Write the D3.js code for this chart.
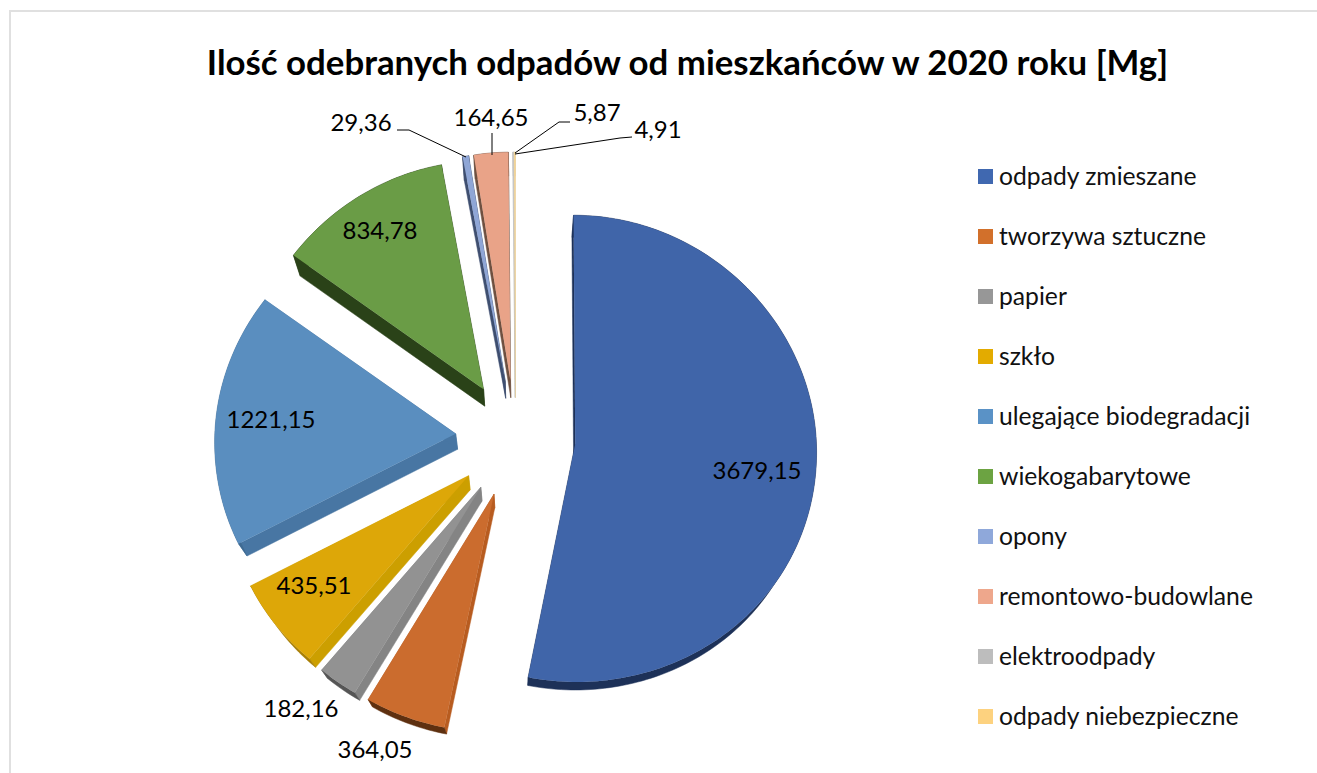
<!DOCTYPE html>
<html>
<head>
<meta charset="utf-8">
<script src="https://d3js.org/d3.v7.min.js"></script>
<style>
	html, body { margin: 0; padding: 0; background: #fff; }
	svg { display: block; font-family: Lato, "Noto Sans", sans-serif; }
</style>
</head>
<body>
<div id="chart"></div>
<script>
// chart values
var categories = ['odpady zmieszane', 'tworzywa sztuczne', 'papier', 'szkło', 'ulegające biodegradacji',
	'wiekogabarytowe', 'opony', 'remontowo-budowlane', 'elektroodpady', 'odpady niebezpieczne'];
var values = [3679.15, 364.05, 182.16, 435.51, 1221.15, 834.78, 29.36, 164.65, 5.87, 4.91];
var valueLabels = ['3679,15', '364,05', '182,16', '435,51', '1221,15', '834,78', '29,36', '164,65', '5,87', '4,91'];

// colours: top face, legend swatch, straight side wall, rim wall
var topColors = ['#4065a9', '#cb6c2e', '#929292', '#dda708', '#5a8ebf', '#6a9c46', '#8fa6d6', '#e9a388', '#c4c4c4', '#fbd78f'];
var legendColors = ['#4068b0', '#d2702b', '#979797', '#e3ab00', '#5a92c6', '#6ca342', '#8fa8da', '#eea78c', '#bdbdbd', '#fdd27f'];
var sideColors = ['#1d3158', '#b85c20', '#848484', '#cc9f00', '#4876a3', '#2a4218', '#3f4f70', '#6f5040', '#bbbbbb', '#e3cfa5'];
var rimColors = ['#1d3158', '#5e3010', '#555555', '#a87f05', '#3f6a92', '#2a4218', '#3f4f70', '#6f5040', '#bbbbbb', '#e3cfa5'];

// label centres, in page pixels
var labelX = [757, 375, 301, 314, 271, 380, 361, 491, 597, 658];
var labelY = [471, 750, 709, 586, 420, 231, 123, 118, 113, 130];

// leader lines for the small slices
var leaders = [
	{ label: '29,36', pts: [[397, 130], [409, 130], [466, 157]] },
	{ label: '164,65', pts: [[492, 133], [492, 155]] },
	{ label: '5,87', pts: [[570, 122], [559, 122], [515, 153]] },
	{ label: '4,91', pts: [[632, 137], [620, 138], [515, 154]] }
];

var svgWidth = 1317,
	svgHeight = 773;

// pie geometry
var cx = 515.5,
	cy = 438,
	rx = 241,
	ry = 238,
	explode = 60,
	farSquash = 0.96,
	perspective = 0.00012;

// side walls run towards a point under the pie
var vanish = [520, 950],
	depth = 0.03;

var svg = d3.select('#chart')
	.append('svg')
	.attr('width', svgWidth)
	.attr('height', svgHeight);

// frame of the chart area
svg.append('path')
	.attr('d', 'M10,773V11H1317')
	.attr('fill', 'none')
	.attr('stroke', '#e0e0e0')
	.attr('stroke-width', 2);

// title
svg.append('text')
	.attr('x', 687.5)
	.attr('y', 75)
	.attr('text-anchor', 'middle')
	.attr('font-size', 34.8)
	.attr('font-weight', 700)
	.attr('fill', '#000')
	.text('Ilość odebranych odpadów od mieszkańców w 2020 roku [Mg]');

var arcs = d3.pie().sort(null).value(d => d)(values);
var line = d3.line();

// plane coordinates to page, the far half is a bit shorter and narrower
function project(x, y) {
	return [cx + x * (1 + y * perspective), cy + (y < 0 ? y * farSquash : y)];
}

function lower(p) {
	return [p[0] + (vanish[0] - p[0]) * depth, p[1] + (vanish[1] - p[1]) * depth];
}

function sliceOutline(a) {
	var mid = (a.startAngle + a.endAngle) / 2,
		ox = explode * Math.sin(mid),
		oy = -explode * Math.cos(mid),
		rim = [];
	var steps = Math.max(2, Math.ceil((a.endAngle - a.startAngle) / 0.02));
	d3.range(steps + 1).forEach(i => {
		var t = a.startAngle + (a.endAngle - a.startAngle) * i / steps;
		rim.push(project(ox + rx * Math.sin(t), oy - ry * Math.cos(t)));
	});
	return { apex: project(ox, oy), rim: rim };
}

var slices = svg.append('g');

arcs.forEach((a, i) => {
	var o = sliceOutline(a);
	var g = slices.append('g');

	// straight walls
	[[o.apex, o.rim[0]], [o.apex, o.rim[o.rim.length - 1]]].forEach(e => {
		g.append('path')
			.attr('d', line([e[0], e[1], lower(e[1]), lower(e[0])]) + 'Z')
			.attr('fill', sideColors[i])
			.attr('stroke', sideColors[i])
			.attr('stroke-width', 0.5);
	});

	// rim wall
	g.append('path')
		.attr('d', line(o.rim.concat(o.rim.map(lower).reverse())) + 'Z')
		.attr('fill', rimColors[i])
		.attr('stroke', rimColors[i])
		.attr('stroke-width', 0.5);

	// top face
	g.append('path')
		.attr('d', line([o.apex].concat(o.rim)) + 'Z')
		.attr('fill', topColors[i]);
});

// leader lines
svg.append('g').selectAll('path')
	.data(leaders)
	.enter()
	.append('path')
	.attr('d', d => line(d.pts))
	.attr('fill', 'none')
	.attr('stroke', '#000')
	.attr('stroke-width', 1);

// data labels
svg.append('g').selectAll('text')
	.data(valueLabels)
	.enter()
	.append('text')
	.attr('x', (d, i) => labelX[i])
	.attr('y', (d, i) => labelY[i])
	.attr('dy', '0.35em')
	.attr('text-anchor', 'middle')
	.attr('font-size', 24)
	.attr('fill', '#000')
	.text(d => d);

// legend
var legendY = d3.scalePoint()
	.domain(categories)
	.range([177, 717]);

var legend = svg.append('g').selectAll('g')
	.data(categories)
	.enter()
	.append('g')
	.attr('transform', d => `translate(978,${legendY(d)})`);

legend.append('rect')
	.attr('y', -8)
	.attr('width', 15)
	.attr('height', 15)
	.attr('fill', (d, i) => legendColors[i]);

legend.append('text')
	.attr('x', 21)
	.attr('y', 8)
	.attr('font-size', 24.7)
	.attr('fill', '#111')
	.text(d => d);
</script>
</body>
</html>
